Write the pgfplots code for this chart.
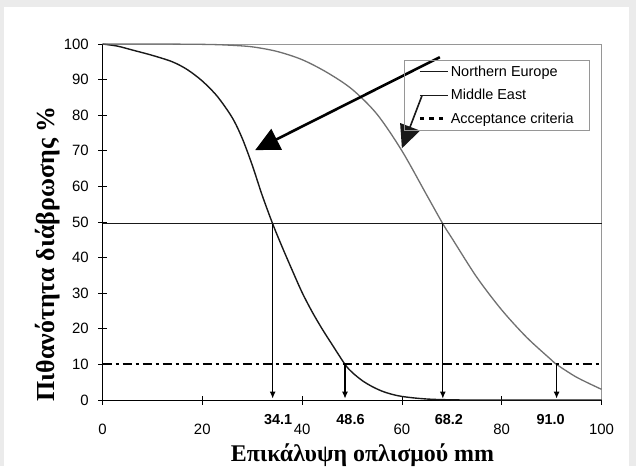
\documentclass[border=0pt]{standalone}
\usepackage{pgfplots}
\pgfplotsset{compat=1.18}
\usepackage{fontspec}
\setmainfont{Liberation Sans}
\newfontfamily\grserif{Liberation Serif}
\usetikzlibrary{arrows.meta}
\definecolor{bggray}{RGB}{235,235,235}
\definecolor{curvegray}{RGB}{112,112,112}
\definecolor{framegray}{RGB}{150,150,150}
\definecolor{darkline}{RGB}{25,25,25}
\begin{document}
\begin{tikzpicture}[x=1bp,y=1bp]
\fill[bggray] (0,0) rectangle (636,466);
\fill[white] (4,0) rectangle (629,459);
\begin{axis}[
  at={(102.5bp,66bp)}, anchor=south west,
  scale only axis, width=499bp, height=356bp,
  xmin=0, xmax=100, ymin=0, ymax=100,
  xtick={0,20,...,100}, ytick={0,10,...,100},
  xtick pos=bottom, ytick pos=left,
  axis line style={framegray, line width=0.9bp},
  tick align=center, major tick length=9bp,
  tick style={black, line width=0.8bp},
  /pgf/number format/assume math mode=true,
  ticklabel style={font=\fontsize{15}{17}\selectfont},
  xticklabel style={anchor=base, inner sep=0pt, yshift=-30bp},
  yticklabel style={anchor=east, inner sep=0pt, xshift=-9bp},
  xlabel={\grserif\bfseries Επικάλυψη οπλισμού mm},
  ylabel={\grserif\bfseries Πιθανότητα διάβρωσης \%},
  every axis x label/.style={at={(rel axis cs:0.521,0)}, anchor=base, yshift=-61bp, font=\fontsize{24}{28}\selectfont},
  every axis y label/.style={at={(axis description cs:-0.11,0.41)}, anchor=center, rotate=90, font=\fontsize{26}{30}\selectfont},
  clip=false,
  legend image code/.code={\draw[#1] (0bp,0bp) -- (28bp,0bp);},
  legend cell align=left,
  legend style={at={(0.604,0.955)}, anchor=north west, draw=framegray, line width=0.8bp, fill=none,
    font=\fontsize{14.5}{16}\selectfont, inner xsep=14bp, inner ysep=4bp, row sep=8.5bp,
    nodes={inner xsep=1.5bp, inner ysep=1.5bp}},
]
\draw[black, line width=0.9bp] (rel axis cs:0,1) -- (rel axis cs:0,0) -- (rel axis cs:1,0);

% Northern Europe
\addplot[darkline, line width=1.4bp, smooth, tension=0.5, forget plot] coordinates {
(0,100) (3,99.4) (6,98.3) (10,96.8) (14,95.0) (17,92.8) (20,89.6) (23,85.3) (26,79.3) (28,73.5)
(30,66) (32,57.5) (34.1,49.5) (36,43) (38,36.5) (40,30.2) (42,24.8) (44,20.0) (46,15.6) (48.6,10)
(50,7.8) (52,5.5) (54,3.8) (56,2.5) (58,1.6) (60,1.0) (63,0.5) (66,0.2) (70,0.05) (75,0) (100,0)};
% Middle East
\addplot[curvegray, line width=1.3bp, smooth, tension=0.5, forget plot] coordinates {
(0,100) (10,100) (20,99.9) (25,99.7) (30,99.2) (35,97.9) (40,95.6) (45,92) (50,87.3) (55,80.3)
(60,70) (65,57.5) (68.2,49.5) (70,45.5) (75,34.5) (80,25.3) (85,17.6) (90,11.2) (91,10) (95,6.4) (100,3.0)};
% 50% line
\addplot[darkline, line width=1.2bp, forget plot] coordinates {(0,49.5) (100,49.5)};
% acceptance criteria
\addplot[black, line width=2bp, dash pattern=on 9bp off 4bp on 3bp off 4bp, forget plot] coordinates {(0,10) (100,10)};
% drop lines
\addplot[black, line width=1.1bp, -{Latex[length=7bp,width=6bp]}, forget plot] coordinates {(34.1,49.5) (34.1,0.4)};
\addplot[black, line width=1.1bp, -{Latex[length=7bp,width=6bp]}, forget plot] coordinates {(68.2,49.5) (68.2,0.4)};
\addplot[black, line width=1.1bp, -{Latex[length=7bp,width=6bp]}, forget plot] coordinates {(48.6,10) (48.6,0.4)};
\addplot[black, line width=1.1bp, -{Latex[length=7bp,width=6bp]}, forget plot] coordinates {(91.0,10) (91.0,0.4)};

\addlegendimage{darkline, line width=1.2bp}
\addlegendentry{Northern Europe}
\addlegendimage{darkline, line width=1.2bp}
\addlegendentry{Middle East}
\addlegendimage{black, line width=3bp, dash pattern=on 4.3bp off 5.2bp}
\addlegendentry{Acceptance criteria}

% big arrows
\draw[black, line width=2.6bp, -{Triangle[length=24bp,width=23bp]}] (axis cs:67.6,96.3) -- (axis cs:30.6,70.2);
\draw[darkline, line width=1.6bp, -{Triangle[length=23bp,width=21bp]}] (axis cs:64.0,85.4) -- (axis cs:60.0,70.7);

% bold value labels
\node[font=\fontsize{14.5}{16}\selectfont\bfseries, anchor=center, yshift=-20bp] at (axis cs:35.2,0) {34.1};
\node[font=\fontsize{14.5}{16}\selectfont\bfseries, anchor=center, yshift=-20bp] at (axis cs:49.7,0) {48.6};
\node[font=\fontsize{14.5}{16}\selectfont\bfseries, anchor=center, yshift=-20bp] at (axis cs:69.4,0) {68.2};
\node[font=\fontsize{14.5}{16}\selectfont\bfseries, anchor=center, yshift=-20bp] at (axis cs:89.8,0) {91.0};
\end{axis}
\end{tikzpicture}
\end{document}
